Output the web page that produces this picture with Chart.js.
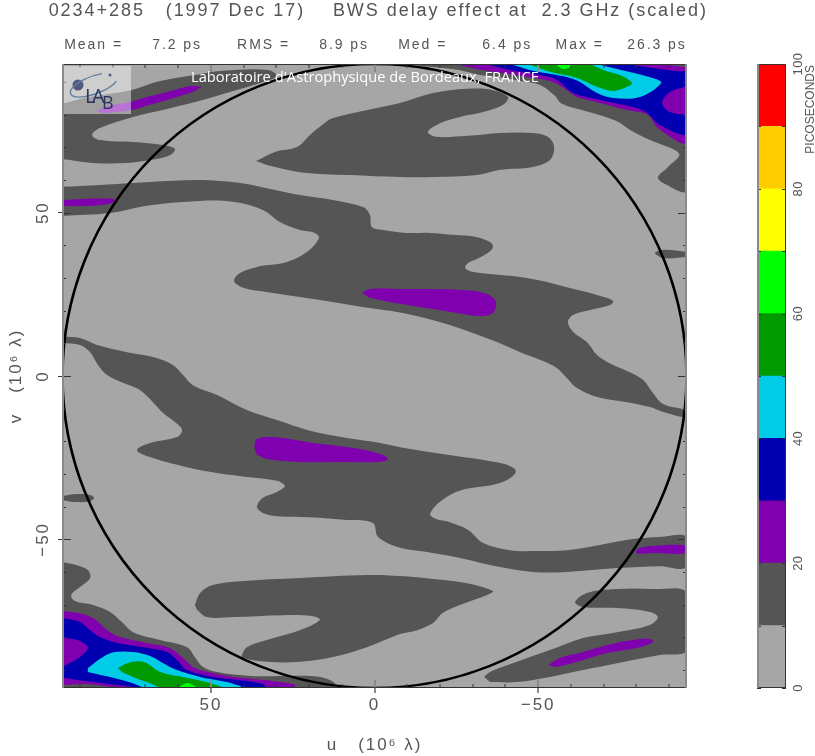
<!DOCTYPE html>
<html><head><meta charset="utf-8">
<style>html,body{margin:0;padding:0;background:#fff}#wrap{position:relative;width:815px;height:756px;overflow:hidden}canvas{position:absolute;top:0}</style>
<script src="https://cdn.jsdelivr.net/npm/chart.js@4"></script>
</head><body><div id="wrap"><canvas id="main" width="815" height="756" style="left:0"></canvas><canvas id="bar" width="75" height="756" style="left:740px"></canvas></div>
<script>
const titleText = "       0234+285   (1997 Dec 17)    BWS delay effect at  2.3 GHz (scaled)";
const statsText = "           Mean =     7.2 ps      RMS =     8.9 ps     Med =      6.4 ps    Max =    26.3 ps";
const axisLimit = 95.5;
const circleRadius = 95.5;
const tickLabels = {50:"50",0:"0","-50":"\u221250"};
const levelTicks = [0,20,40,60,80,100];
const levelEdges = [0,10,20,30,40,50,60,70,80,90,100];
const levelColors = ["#a6a6a6","#555555","#8000b0","#0000b0","#00cce8","#009900","#00ff00","#ffff00","#ffcc00","#ff0000"];

const darkTopIsland = [[36.2,65.8],[30.4,68.6],[23.7,70.1],[19.7,73.8],[16,76.8],[12.7,79],[-7.8,83.6],[-17.9,86.6],[-28.3,87.9],[-36.2,87.5],[-40.8,85.4],[-39.3,83],[-33.2,80.8],[-26.1,79.3],[-20,77.4],[-16.3,74.7],[-19.1,73.2],[-28.3,73.5],[-38.4,74.4],[-48.4,74.4],[-53,73.2],[-54.9,70.1],[-53.6,66.1],[-48.4,64],[-38.4,63.1],[-31.3,61.5],[-17.9,60.9],[-7.8,60.9],[7.5,61.5],[22.8,62.4],[32.9,64.6]];
const darkUpperBand = [[95.5,57.9],[83.9,58.5],[68.6,59.4],[53.3,60],[41.1,59.1],[32.9,57.5],[22.8,55.4],[12.7,53.9],[3.5,51.7],[1.4,49.3],[0.8,45.6],[-2.6,44.7],[-9.9,43.8],[-17,43.8],[-24,43.2],[-31.3,42.5],[-35.3,41],[-36.2,39.5],[-34.7,37.7],[-31.3,35.8],[-28.6,34.6],[-27.7,33.1],[-29.2,32.1],[-35.3,31.2],[-44.5,30.3],[-52.7,28.8],[-59.7,26.9],[-68,24.8],[-72.9,23],[-72,21.7],[-65.9,20.2],[-60.7,18.7],[-59.1,16.5],[-60.7,13.5],[-64.9,10.4],[-68,6.4],[-71.1,4.3],[-77.2,1.5],[-82.1,-1.2],[-85.1,-5.2],[-88.2,-8.6],[-95.5,-10.7],[-95.5,-12.6],[-88.2,-11],[-84.2,-9.5],[-77.2,-8],[-68,-6.4],[-61.9,-3.7],[-58.8,-0.6],[-55.8,2.4],[-51.5,4.6],[-44.5,7.3],[-37.4,10.4],[-29.2,13.5],[-20.9,16.2],[-13.9,18.1],[-6.9,19.6],[1.4,20.8],[10.5,22.3],[24.9,24.5],[35,26],[40.5,27.2],[42.9,29.1],[41.1,31.5],[35.9,33.4],[26.7,34.9],[20.6,38],[17,42.2],[18.2,43.8],[22.8,44.7],[28.9,47.1],[34.1,50.8],[43.2,53.3],[53.3,53.6],[68.6,52.3],[80.8,49.9],[95.5,49]];
const darkLowerBand = [[95.5,12.2],[90,11.6],[84.8,9.5],[75.6,7.3],[67.7,5.8],[61.6,3.4],[58.5,0.3],[55.5,-2.8],[48.1,-5.8],[39,-10.4],[29.8,-13.5],[20.6,-16.5],[8.4,-19],[-1.7,-20.5],[-10.5,-22.3],[-24.9,-24.5],[-35,-26],[-40.5,-27.2],[-43.2,-29.1],[-41.1,-31.5],[-35.9,-33.4],[-26.7,-34.9],[-20.6,-38],[-17,-42.2],[-18.8,-43.8],[-22.8,-44.7],[-28.6,-47.1],[-33.2,-51.1],[-41.4,-53.3],[-48.4,-53.6],[-58.8,-53.3],[-68.9,-51.7],[-79,-49.9],[-87.2,-49.3],[-95.5,-49.3],[-95.5,-58.5],[-87.2,-58.2],[-74.1,-58.8],[-58.8,-60],[-48.4,-60],[-38.4,-58.5],[-26.1,-55.7],[-16,-53.9],[-7.8,-52.6],[-1.1,-49.3],[0.5,-45],[8.4,-44.1],[19.7,-43.2],[29.8,-42.9],[34.1,-41.9],[35.9,-40.1],[34.1,-37.3],[29.8,-35.5],[27.4,-33.7],[29.8,-32.1],[39,-30.9],[48.1,-29.7],[57.3,-27.9],[67.7,-25.1],[72.6,-22.7],[68.6,-20.5],[60.4,-18.7],[58.8,-16.5],[61,-14.1],[64.6,-11.3],[67.7,-8],[71.7,-4.3],[76.9,-2.1],[81.7,0.3],[84.5,3.4],[86.9,7.3],[90,9.5],[95.5,10.1]];
const darkBottomIsland = [[54.9,-70.1],[53.3,-66.4],[49.4,-64],[41.1,-62.8],[22.8,-61.8],[2.3,-60.9],[-7.8,-61.2],[-17.9,-62.1],[-28.3,-63.4],[-36.2,-65.8],[-34.4,-67],[-26.1,-70.1],[-20.9,-72.5],[-17.9,-75.6],[-13,-77.8],[-7.8,-79],[2.3,-83],[12.7,-86],[22.8,-87.5],[32.9,-87.5],[40.2,-86.3],[40.5,-85.4],[39,-83],[32.9,-80.8],[22.8,-77.8],[16.7,-74.7],[18.8,-73.5],[28,-73.2],[43.2,-73.8],[51.2,-73.8],[54.2,-71.6]];
const darkTopLeft = [[95.5,83.3],[87.2,85.4],[74.4,87.5],[65.5,90.3],[53.3,92.4],[46.3,93.4],[32.5,93.7],[29.8,91.8],[34.1,90],[44.2,86.9],[50.3,85.1],[63.4,81.7],[73.8,79.3],[83.9,75.9],[86.3,73.8],[83.9,72.2],[73.8,71.6],[64.6,70.7],[61,69.5],[62.5,67.6],[68.6,66.1],[75.6,65.2],[86,65.2],[95.5,66.4]];
const darkBottomRight = [[-33.5,-92.1],[-35.3,-90.6],[-43.5,-87.5],[-53.6,-83.9],[-63.7,-80.2],[-74.1,-78.4],[-84.2,-76.2],[-86.6,-73.8],[-84.2,-72.2],[-74.1,-71],[-63.7,-70.7],[-61.3,-69.2],[-64.9,-66.4],[-74.1,-65.2],[-85.1,-65.2],[-95.5,-66.4],[-95.5,-83.9],[-87.2,-85.4],[-74.1,-87.9],[-63.7,-90],[-53.6,-92.1],[-43.5,-93.7],[-35.3,-93.7]];
const darkLeftIsland = [[95.5,-36.7],[90.9,-36.1],[86.9,-36.4],[85.7,-37.3],[86.9,-38.3],[90.9,-38.6],[95.5,-38]];
const darkRightIsland = [[-95.5,38],[-88.2,38.6],[-85.7,37.7],[-88.2,36.1],[-95.5,36.4]];
const darkTopRight = [[-8.4,95.5],[-17.9,94.6],[-25.8,93.7],[-32.3,92.1],[-38,91.5],[-44.5,90.3],[-50.6,89.1],[-54.9,86],[-57.3,83.3],[-65.5,80.8],[-73.8,78.1],[-78.1,75.3],[-84.2,72.2],[-93.1,68],[-89.4,63.7],[-86.6,60.9],[-88.2,59.1],[-95.5,56.9],[-95.5,95.5]];
const darkBottomLeft = [[95.5,-56.9],[90.9,-57.9],[87.6,-59.4],[86.9,-61.8],[90,-64.6],[92.7,-67],[91.5,-68.9],[86,-70.1],[80.8,-72.2],[77.2,-75.3],[73.8,-78.4],[65.5,-80.8],[57.3,-83],[54.9,-86],[52.4,-89.1],[48.1,-90.6],[38,-91.8],[28,-91.8],[16.7,-92.1],[12.1,-94],[12.7,-95.5],[95.5,-95.5]];

const purpleUpper = [[3.8,25.4],[1.4,26.6],[-8.7,26.6],[-27,26.3],[-34.4,25.1],[-37.1,22.7],[-36.2,19.3],[-32.2,18.4],[-25.2,19.3],[-16,20.8],[-6.9,22.3],[1.4,23.9]];
const purpleLower = [[36.8,-21.7],[35.9,-19.3],[31,-18.7],[18.8,-20.5],[6.6,-22],[-1.7,-23.9],[-4.1,-25.4],[-1.7,-26.3],[10.5,-26.3],[22.8,-26.3],[32.9,-25.4],[35.9,-24.2]];
const purpleTopLeft = [[52.7,88.5],[56.4,88.8],[63.4,86.9],[70.7,85.1],[74.4,83.9],[79.9,83],[84.5,81.4],[83.3,80.5],[74.4,81.4],[68.6,83],[60.4,85.4],[55.5,86.9]];
const purpleBottomRight = [[-53,-88.5],[-56.7,-86.3],[-63.7,-84.5],[-71.1,-82.3],[-79,-80.8],[-84.2,-80.5],[-85.1,-81.4],[-81.1,-83],[-71.1,-84.8],[-61.9,-87.5],[-55.8,-89.1]];
const purpleLeftSliver = [[95.5,53.9],[89.1,54.2],[79.9,54.2],[79.3,53.6],[81.7,52.6],[89.1,52],[95.5,52]];
const purpleRightSliver = [[-79.9,-53.6],[-81.1,-52.6],[-85.1,-52],[-95.5,-52],[-95.5,-54.2],[-85.1,-54.2],[-80.2,-54.5]];
const purpleTopRight = [[-24.6,95.5],[-31.3,94],[-41.4,92.4],[-50.6,90.9],[-54.5,90],[-58.8,87.5],[-61.9,85.4],[-68.9,83.6],[-77.2,81.4],[-83.6,79.9],[-86.6,75.9],[-95.5,71.6],[-95.5,95.5]];
const purpleBottomLeft = [[95.5,-71.9],[90.9,-72.5],[86,-74.1],[81.7,-77.8],[77.8,-79.9],[69.5,-81.7],[62.5,-83.3],[58.5,-86.3],[55.5,-89.1],[53.3,-90],[43.2,-92.1],[32.9,-93.1],[26.7,-94],[24.3,-94.6],[24.9,-95.5],[95.5,-95.5]];

const blueTopRight = [[-33.8,95.5],[-41.4,93.7],[-50.6,92.1],[-55.8,90.6],[-60.7,86.6],[-68.9,84.5],[-79,82.3],[-83.3,80.5],[-87.2,76.8],[-95.5,74.4],[-95.5,95.5]];
const blueBottomLeft = [[95.5,-74.1],[90,-75.3],[86.9,-77.8],[83.9,-79.9],[78.7,-81.7],[70.7,-83],[63.4,-84.5],[60.4,-86.9],[57.3,-90],[49.4,-92.1],[41.1,-93.1],[34.1,-94.3],[33.5,-95.5],[95.5,-95.5]];

const purpleInnerRight = [[-95.5,88.8],[-90.3,86.9],[-87.9,83.6],[-90.3,80.8],[-95.5,79.9]];
const purpleInnerLeft = [[95.5,-80.2],[90.9,-80.8],[87.6,-83],[90,-86],[95.5,-89.1]];
const purpleEdgeRight = [[-76.6,95.5],[-87.2,94],[-95.5,93.4],[-95.5,95.5]];
const purpleEdgeLeft = [[95.5,-92.4],[86,-93.7],[74.1,-95.2],[73.3,-95.5],[95.5,-95.5]];
const darkEdgeRight = [[-87.9,95.5],[-95.5,94.6],[-95.5,95.5]];
const darkEdgeLeft = [[95.5,-94.6],[87.9,-94.3],[79.9,-95.5],[95.5,-95.5]];

const cyanTopRight = [[-41.4,95.5],[-48.4,93.4],[-55.8,92.1],[-59.7,91.2],[-62.8,90],[-68,86.6],[-72.9,85.1],[-81.1,85.4],[-87.6,89.7],[-85.1,91.2],[-72.9,94.3],[-68,95.5]];
const cyanBottomLeft = [[87.6,-89.4],[83,-86],[79.3,-84.5],[73.8,-84.5],[68.6,-85.7],[64.6,-87.9],[60.4,-90],[53.3,-92.1],[45.1,-93.7],[40.5,-95.5],[69.5,-95.5],[74.1,-94],[79.9,-92.4],[87.6,-90.6]];
const greenTopRight = [[-46.9,95.5],[-53.6,93.1],[-61.9,91.2],[-68,88.5],[-72.9,87.2],[-77.2,88.5],[-78.7,89.7],[-75,92.1],[-69.8,93.7],[-65.9,95.5]];
const greenBottomLeft = [[78.4,-89.4],[75.6,-87.9],[70.7,-87.5],[65.5,-90.6],[57.3,-92.4],[50.3,-94],[46.6,-95.5],[64.6,-95.5],[69.5,-93.7],[73.8,-92.1],[77.2,-90.6]];
const limeTopRight = [[-55.2,95.5],[-57.6,94],[-60.4,94.9],[-59.7,95.5]];
const limeBottomLeft = [[59.4,-95],[57.3,-94],[54.9,-94.9],[54.9,-95.5],[59.4,-95.5]];

// painter's order: [polygon, index of its level colour]
const layers = [
  [darkTopIsland,1],[darkUpperBand,1],[darkLowerBand,1],[darkBottomIsland,1],[darkTopLeft,1],[darkBottomRight,1],[darkLeftIsland,1],[darkRightIsland,1],[darkTopRight,1],[darkBottomLeft,1],
  [purpleUpper,2],[purpleLower,2],[purpleTopLeft,2],[purpleBottomRight,2],[purpleLeftSliver,2],[purpleRightSliver,2],[purpleTopRight,2],[purpleBottomLeft,2],
  [blueTopRight,3],[blueBottomLeft,3],
  [purpleInnerRight,2],[purpleInnerLeft,2],[purpleEdgeRight,2],[purpleEdgeLeft,2],[darkEdgeRight,1],[darkEdgeLeft,1],
  [cyanTopRight,4],[cyanBottomLeft,4],[greenTopRight,5],[greenBottomLeft,5],[limeTopRight,6],[limeBottomLeft,6]
];

const INK = "#333333", EDGE = "#8a8a8a", TEXT = "#555555", FONT = "'Liberation Sans', sans-serif";

const spacing = {id:"spacing", beforeDraw(c){c.ctx.letterSpacing = "1.95px";}};
const background = {id:"background", beforeDatasetsDraw(c){
  const a=c.chartArea, x=c.ctx; x.save(); x.fillStyle=levelColors[0]; x.fillRect(a.left,a.top,a.width,a.height); x.restore();
}};
const overlay = {id:"overlay", afterDatasetsDraw(c){
  const x=c.ctx, a=c.chartArea, sx=c.scales.x, sy=c.scales.y;
  x.save(); x.letterSpacing="0px";
  for(const t of sx.ticks){const p=Math.round(sx.getPixelForValue(t.value)),maj=t.value%50===0;
    x.strokeStyle=maj?EDGE:INK;x.lineWidth=maj?2:1;
    x.beginPath();x.moveTo(p,a.bottom);x.lineTo(p,a.bottom-(maj?8:4));x.moveTo(p,a.top);x.lineTo(p,a.top+(maj?8:4));x.stroke();}
  x.strokeStyle=INK;x.lineWidth=1;
  for(const t of sy.ticks){const p=Math.round(sy.getPixelForValue(t.value))+.5,maj=t.value%50===0,l=maj?9:4;
    x.beginPath();x.moveTo(a.left,p);x.lineTo(a.left+l,p);x.moveTo(a.right,p);x.lineTo(a.right-l,p);x.stroke();}
  x.strokeStyle=INK;x.beginPath();x.moveTo(a.left,a.top+.5);x.lineTo(a.right,a.top+.5);x.moveTo(a.left,a.bottom-.5);x.lineTo(a.right,a.bottom-.5);x.stroke();
  x.strokeStyle=EDGE;x.lineWidth=2;x.beginPath();x.moveTo(a.left+1,a.top);x.lineTo(a.left+1,a.bottom);x.moveTo(a.right-1,a.top);x.lineTo(a.right-1,a.bottom);x.stroke();
  // laboratory watermark
  x.fillStyle="rgba(255,255,255,0.45)";x.fillRect(64,66,67,48);
  x.fillStyle="#50597f";x.beginPath();x.arc(78,85,5.5,0,7);x.fill();
  x.beginPath();x.arc(110,75,1.5,0,7);x.fill();
  x.strokeStyle="#5f7f9a";x.lineWidth=1.4;
  x.beginPath();x.ellipse(94,85,25,9,-0.35,0.15*Math.PI,1.65*Math.PI);x.stroke();
  x.fillStyle="#2c3360";x.font="20px 'Open Sans', sans-serif";x.textBaseline="alphabetic";
  x.fillText("L",85,103);x.fillText("A",92,103);x.font="18px 'Open Sans', sans-serif";x.fillText("B",102,109);
  x.fillStyle="#ffffff";x.font="14.7px 'Open Sans', sans-serif";x.fillText("Laboratoire d'Astrophysique de Bordeaux, FRANCE",191,82);
  x.restore();
}};

new Chart(document.getElementById("main"),{
  type:"line",
  data:{datasets:[
    ...layers.map(([poly,lvl],i)=>({data:poly.map(([x,y])=>({x,y})),fill:"shape",tension:0.35,backgroundColor:levelColors[lvl],borderWidth:0,pointRadius:0,order:layers.length-i+1})),
    {data:[{x:0,y:0}],showLine:false,order:0,pointBackgroundColor:"transparent",pointBorderColor:"#000",pointBorderWidth:2.6,
     pointRadius:c=>Math.abs(c.chart.scales.x.getPixelForValue(circleRadius)-c.chart.scales.x.getPixelForValue(0))-0.5}
  ]},
  plugins:[spacing,background,overlay],
  options:{responsive:false,animation:false,events:[],
    layout:{padding:0},
    plugins:{legend:{display:false},tooltip:{enabled:false},
      title:{display:true,text:titleText,align:"start",color:TEXT,font:{family:FONT,size:18,weight:"normal"},padding:{top:0,bottom:15}},
      subtitle:{display:true,text:statsText,align:"start",color:TEXT,font:{family:FONT,size:14,weight:"normal"},padding:{top:0,bottom:10.6}}},
    scales:{
      x:{type:"linear",reverse:true,min:-axisLimit,max:axisLimit,afterFit(s){s.height=68;},
        border:{display:false},
        grid:{drawOnChartArea:false,tickLength:5,lineWidth:c=>c.tick&&c.tick.value%50===0?2:0,tickColor:EDGE},
        ticks:{stepSize:10,includeBounds:false,autoSkip:false,maxRotation:0,color:TEXT,padding:2,font:{family:FONT,size:17},callback:v=>tickLabels[v]||""},
        title:{display:true,text:"u   (10\u2076 \u03bb)",color:TEXT,font:{family:FONT,size:17},padding:{top:10,bottom:0}}},
      y:{type:"linear",min:-axisLimit,max:axisLimit,afterFit(s){s.width=62;},
        border:{display:false},
        grid:{drawOnChartArea:false,tickLength:4,lineWidth:c=>c.tick&&c.tick.value%50===0?1:0,tickColor:INK},
        ticks:{stepSize:10,includeBounds:false,autoSkip:false,minRotation:90,maxRotation:90,crossAlign:"center",color:TEXT,padding:0,font:{family:FONT,size:17},callback:v=>tickLabels[v]||""},
        title:{display:true,text:"v   (10\u2076 \u03bb)",color:TEXT,font:{family:FONT,size:17},padding:{top:6,bottom:0}}},
      gutter:{type:"linear",position:"right",afterFit(s){s.width=128;},border:{display:false},grid:{display:false},ticks:{display:false}}
    }}
});

const barSpacing = {id:"barSpacing", beforeDraw(c){c.ctx.letterSpacing="0.4px";}};
const barOverlay = {id:"barOverlay", afterDatasetsDraw(c){
  const x=c.ctx,a=c.chartArea,s=c.scales.y;
  x.save();x.strokeStyle=INK;x.lineWidth=1;
  for(const t of s.ticks){const p=Math.round(s.getPixelForValue(t.value))+.5;
    x.beginPath();x.moveTo(a.left,p);x.lineTo(a.left+4,p);x.moveTo(a.right,p);x.lineTo(a.right-4,p);x.stroke();}
  x.beginPath();x.moveTo(a.left,a.top+.5);x.lineTo(a.right,a.top+.5);x.moveTo(a.left,a.bottom-.5);x.lineTo(a.right,a.bottom-.5);x.moveTo(a.right-.5,a.top);x.lineTo(a.right-.5,a.bottom);x.stroke();
  x.strokeStyle=EDGE;x.lineWidth=2;x.beginPath();x.moveTo(a.left+1,a.top);x.lineTo(a.left+1,a.bottom);x.stroke();
  x.translate(71,65);x.rotate(-Math.PI/2);x.letterSpacing="0px";x.fillStyle=TEXT;x.font="12px "+FONT;x.textAlign="right";x.textBaseline="middle";
  x.fillText("PICOSECONDS",0,0);
  x.restore();
}};
new Chart(document.getElementById("bar"),{
  type:"bar",
  data:{labels:["ps"],datasets:levelColors.map((col,i)=>({data:[[levelEdges[i],levelEdges[i+1]]],backgroundColor:col,borderWidth:0,barPercentage:1,categoryPercentage:1,grouped:false}))},
  plugins:[barSpacing,barOverlay],
  options:{responsive:false,animation:false,events:[],
    layout:{padding:{top:64,left:17,right:0,bottom:68}},
    plugins:{legend:{display:false},tooltip:{enabled:false}},
    scales:{
      x:{display:false,grid:{display:false}},
      y:{position:"right",min:0,max:100,afterFit(s){s.width=29;},border:{display:false},
        grid:{drawOnChartArea:false,drawTicks:false,tickLength:0},
        ticks:{stepSize:10,includeBounds:false,autoSkip:false,minRotation:90,maxRotation:90,crossAlign:"center",color:TEXT,padding:2,font:{family:FONT,size:13},callback:v=>levelTicks.includes(v)?String(v):""}}
    }}
});
</script></body></html>
